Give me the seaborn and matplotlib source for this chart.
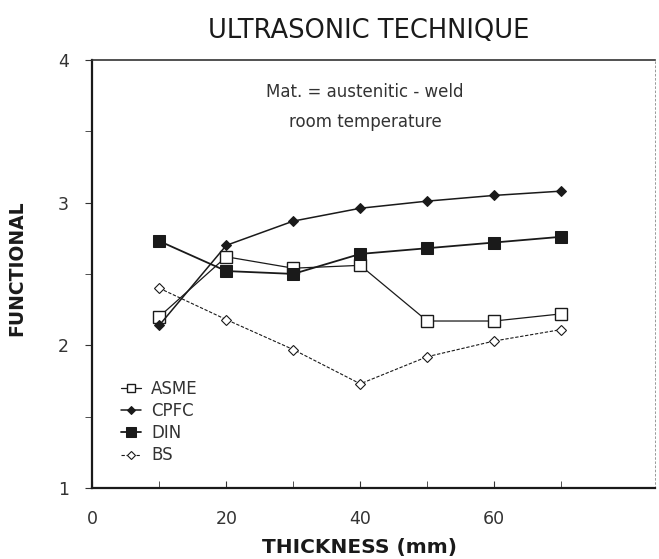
import numpy as np
import pandas as pd
import matplotlib
matplotlib.use("Agg")
import matplotlib.pyplot as plt
import seaborn as sns

# thickness (mm)
thickness = [10, 20, 30, 40, 50, 60, 70]

asme = [2.20, 2.62, 2.54, 2.56, 2.17, 2.17, 2.22]
cpfc = [2.14, 2.70, 2.87, 2.96, 3.01, 3.05, 3.08]
din = [2.73, 2.52, 2.50, 2.64, 2.68, 2.72, 2.76]
bs = [2.40, 2.18, 1.97, 1.73, 1.92, 2.03, 2.11]

sns.set_style("ticks")
plt.rcParams['font.family'] = ['DejaVu Sans']

fig = plt.figure(figsize=(6.59, 5.59), dpi=100)
ax = fig.add_axes([0.14, 0.127, 0.854, 0.766])

ink = "#1a1a1a"

sns.lineplot(x=thickness, y=asme, ax=ax, color=ink, lw=0.9, marker="s",
             markersize=8, markerfacecolor="white", markeredgecolor=ink,
             markeredgewidth=1.0, label="ASME")
sns.lineplot(x=thickness, y=cpfc, ax=ax, color=ink, lw=1.1, marker="D",
             markersize=5, markerfacecolor=ink, markeredgecolor=ink,
             label="CPFC")
sns.lineplot(x=thickness, y=din, ax=ax, color=ink, lw=1.3, marker="s",
             markersize=9, markerfacecolor=ink, markeredgecolor=ink,
             label="DIN")
sns.lineplot(x=thickness, y=bs, ax=ax, color=ink, lw=0.8, ls=(0, (3, 1.5)),
             marker="D", markersize=5, markerfacecolor="white",
             markeredgecolor=ink, markeredgewidth=0.8, label="BS")

ax.set_xlim(0, 84)
ax.set_ylim(1, 4)
ax.set_xticks([0, 20, 40, 60])
ax.set_xticks([10, 30, 50, 70], minor=True)
ax.set_yticks([1, 2, 3, 4])
ax.set_yticks([1.5, 2.5, 3.5], minor=True)
ax.tick_params(axis="x", which="both", direction="in", length=5, pad=16,
               labelsize=12.5, colors="#333333")
ax.tick_params(axis="y", which="both", direction="out", length=5, pad=12,
               labelsize=12.5, colors="#333333")

for side in ["left", "bottom"]:
    ax.spines[side].set_linewidth(1.6)
    ax.spines[side].set_color(ink)
ax.spines["top"].set_visible(True)
ax.spines["top"].set_linewidth(1.2)
ax.spines["top"].set_color("#333333")
ax.spines["right"].set_visible(True)
ax.spines["right"].set_linewidth(0.6)
ax.spines["right"].set_linestyle((0, (2, 3)))
ax.spines["right"].set_color("#888888")

ax.text(0.485, 0.925, "Mat. = austenitic - weld", transform=ax.transAxes,
        ha="center", va="center", fontsize=12, color="#333333")
ax.text(0.485, 0.855, "room temperature", transform=ax.transAxes,
        ha="center", va="center", fontsize=12, color="#333333")

fig.text(0.56, 0.945, "ULTRASONIC TECHNIQUE", ha="center", va="center",
         fontsize=18.5, color=ink)
fig.text(0.545, 0.02, "THICKNESS (mm)", ha="center", va="center",
         fontsize=14.5, fontweight="bold", color=ink)
fig.text(0.025, 0.52, "FUNCTIONAL", ha="center", va="center", rotation=90,
         fontsize=13.5, fontweight="bold", color=ink)

ax.legend(loc="lower left", bbox_to_anchor=(0.025, 0.02), frameon=False,
          handlelength=1.2, handletextpad=0.6, labelspacing=0.25,
          markerscale=0.75, fontsize=12, labelcolor="#333333")

fig.savefig("out.png", dpi=100)
